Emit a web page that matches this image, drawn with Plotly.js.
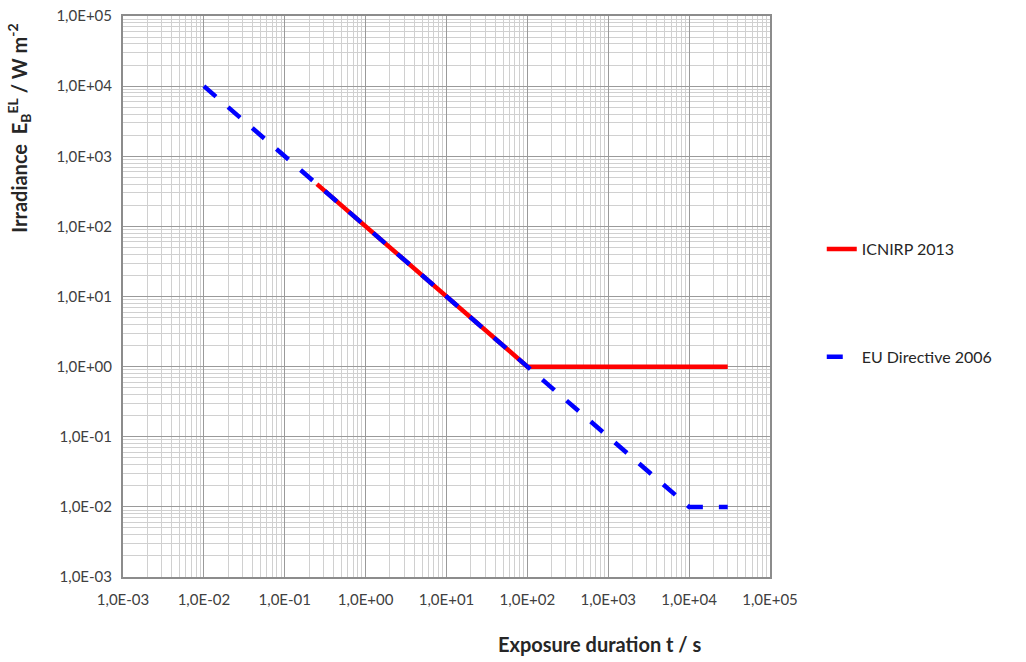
<!DOCTYPE html>
<html>
<head>
<meta charset="utf-8">
<script src="https://cdn.plot.ly/plotly-3.0.1.min.js"></script>
<style>html,body{margin:0;padding:0;background:#fff;}#chart{width:1026px;height:662px;}</style>
</head>
<body>
<div id="chart"></div>
<script>
// Data
const icnirpT = [0.25, 100, 30000];
const icnirpE = [400, 1, 1];
const euT = [0.01, 10000, 30000];
const euE = [10000, 0.01, 0.01];

const xTickVals = [1e-3, 1e-2, 1e-1, 1e0, 1e1, 1e2, 1e3, 1e4, 1e5];
const xTickText = ["1,0E-03","1,0E-02","1,0E-01","1,0E+00","1,0E+01","1,0E+02","1,0E+03","1,0E+04","1,0E+05"];
const yTickVals = [1e-3, 1e-2, 1e-1, 1e0, 1e1, 1e2, 1e3, 1e4, 1e5];
const yTickText = ["1,0E-03","1,0E-02","1,0E-01","1,0E+00","1,0E+01","1,0E+02","1,0E+03","1,0E+04","1,0E+05"];

// minor gridline positions: 2..9 within each decade
const minorVals = [];
for (let e = -3; e < 5; e++) {
  for (let m = 2; m <= 9; m++) minorVals.push(m * Math.pow(10, e));
}

const FONT = "Lato, 'Open Sans', 'Liberation Sans', sans-serif";

const traces = [
  {x: icnirpT, y: icnirpE, mode: 'lines', name: 'ICNIRP 2013', legendgroup: 'a',
   line: {color: '#ff0000', width: 4.5}},
  {x: euT, y: euE, mode: 'lines', name: 'EU Directive 2006', legendgroup: 'b',
   line: {color: '#0000ff', width: 4.5, dash: '16px,16px'}}
];

const axisCommon = {
  type: 'log',
  showline: true, mirror: true, linecolor: '#8c8c8c', linewidth: 2,
  showgrid: true, gridcolor: '#9a9a9a', gridwidth: 1,
  minor: {showgrid: true, gridcolor: '#d0d0d0', gridwidth: 1, ticks: '',
          tickmode: 'array', tickvals: minorVals},
  ticks: '', zeroline: false,
  tickfont: {family: FONT, size: 15, color: '#404040'},
  tickmode: 'array'
};

const layout = {
  width: 1026, height: 662,
  margin: {l: 123, r: 256, t: 16, b: 85},
  paper_bgcolor: '#ffffff', plot_bgcolor: '#ffffff',
  showlegend: true,
  legend: {x: 1.08, y: 0.615, xanchor: 'left', yanchor: 'top',
           font: {family: FONT, size: 16, color: '#262626'},
           traceorder: 'grouped', tracegroupgap: 84, bgcolor: 'rgba(0,0,0,0)'},
  xaxis: Object.assign({}, axisCommon, {
    range: [-3, 5], tickvals: xTickVals, ticktext: xTickText, ticklabelstandoff: 8
  }),
  yaxis: Object.assign({}, axisCommon, {
    range: [-3, 5], tickvals: yTickVals, ticktext: yTickText, ticklabelstandoff: 6
  }),
  annotations: [
    {xref: 'paper', yref: 'paper', x: 0.737, y: -0.12, xanchor: 'center', yanchor: 'middle',
     showarrow: false, text: '<b>Exposure duration t / s</b>',
     font: {family: FONT, size: 20, color: '#262626'}},
    {xref: 'paper', yref: 'paper', x: -0.16, y: 0.8, xanchor: 'center', yanchor: 'middle',
     showarrow: false, textangle: -90,
     text: '<b>Irradiance  E<sub>B</sub><sup>EL</sup> / W m<sup>-2</sup></b>',
     font: {family: FONT, size: 20, color: '#262626'}}
  ]
};

Plotly.newPlot('chart', traces, layout, {displayModeBar: false, staticPlot: true});
</script>
</body>
</html>
